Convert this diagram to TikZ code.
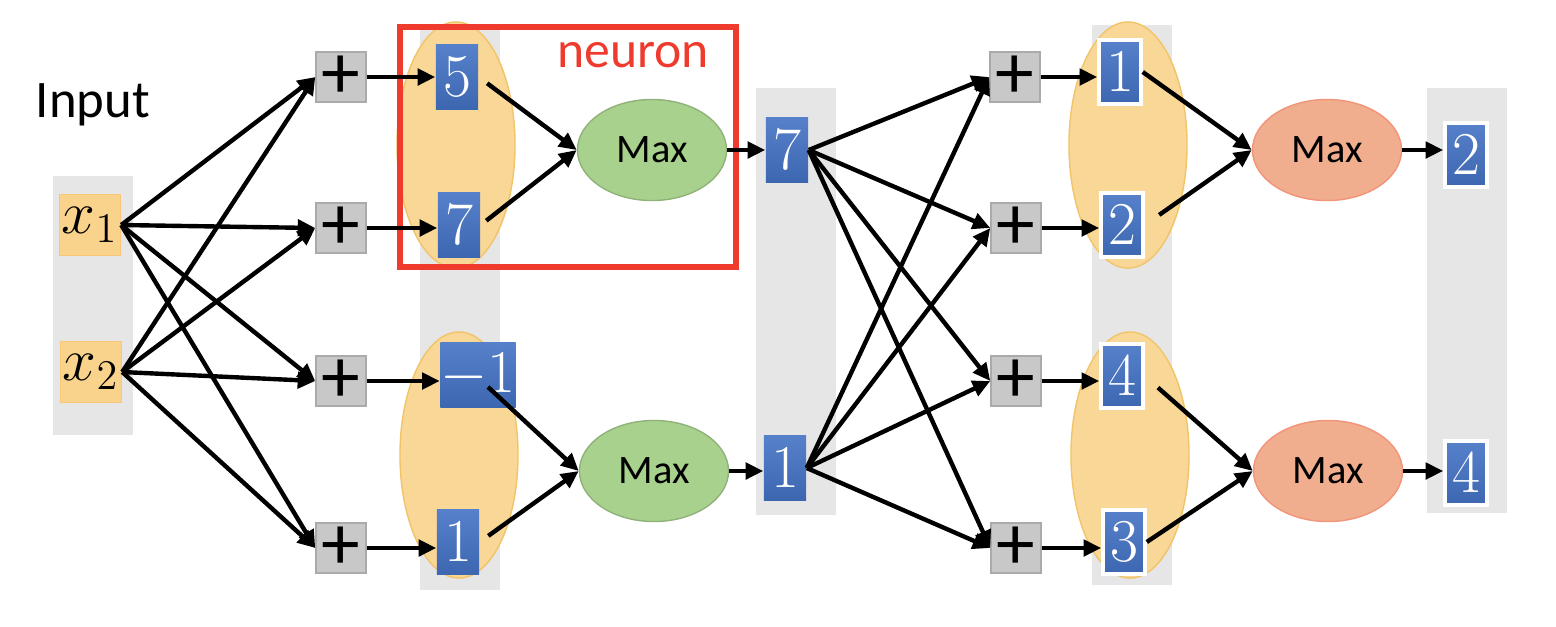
\documentclass[tikz,border=0pt]{standalone}
\usepackage[no-math]{fontspec}
\setmainfont{Carlito}
\usetikzlibrary{arrows.meta, positioning, shapes.geometric}
\definecolor{colGray}{HTML}{E6E6E6}
\definecolor{inOrange}{HTML}{F9D38C}
\definecolor{grpOrange}{HTML}{F9D797}
\definecolor{grpEdge}{HTML}{F2C469}
\definecolor{valBlue}{HTML}{4472C4}
\definecolor{sumGray}{HTML}{C8C8C8}
\definecolor{maxGreen}{HTML}{A9D18E}
\definecolor{maxSalmon}{HTML}{F0AE8E}
\definecolor{neuronRed}{HTML}{EE3B2E}

\begin{document}
\begin{tikzpicture}[
    x=0.01cm, y=-0.01cm,
    col/.style={fill=colGray},
    inbox/.style={rectangle, fill=inOrange, draw=inOrange!85!orange, minimum width=0.61cm, minimum height=0.61cm, inner sep=0pt, font=\fontsize{17}{19}\selectfont},
    sumbox/.style={rectangle, fill=sumGray, draw=sumGray!85!black, minimum width=0.5cm, minimum height=0.5cm, inner sep=0pt, font=\fontsize{22}{24}\selectfont},
    val/.style={rectangle, top color=valBlue!90!white, bottom color=valBlue!90!black, minimum width=0.42cm, minimum height=0.64cm, inner sep=0pt, text=white, font=\fontsize{18}{20}\selectfont},
    valw/.style={val, fill=valBlue, draw=white, line width=1pt},
    grp/.style={ellipse, fill=grpOrange, draw=grpEdge, minimum width=1.18cm, minimum height=2.46cm, inner sep=0pt},
    maxg/.style={ellipse, fill=maxGreen, draw=maxGreen!85!black, minimum width=1.49cm, minimum height=1.01cm, inner sep=0pt, font=\fontsize{11.5}{13}\selectfont},
    maxo/.style={maxg, fill=maxSalmon, draw=maxSalmon!85!red},
    arrow/.style={-{Triangle[length=5pt, width=4.6pt]}, line width=1.25pt}
]
    \useasboundingbox (0,0) rectangle (1556,626);

    % Columns
    \fill[col] (53,176) rectangle (133,435);
    \fill[col] (420,25) rectangle (500,590);
    \fill[col] (756,88) rectangle (836,515);
    \fill[col] (1092,25) rectangle (1172,585);
    \fill[col] (1427,88) rectangle (1507,513);

    % Groups
    \node[grp] (ga1) at (456,145) {};
    \node[grp] (ga2) at (459,455) {};
    \node[grp] (gb1) at (1128,145) {};
    \node[grp] (gb2) at (1130,455) {};

    % Input
    \node[font=\fontsize{15}{18}\selectfont] (inlbl) at (93,105) {Input};
    \node[inbox] (x1) at (90,225) {$x_1$};
    \node[inbox] (x2) at (91,372) {$x_2$};

    % First layer
    \node[sumbox] (sa1) at (341,77) {+};
    \node[sumbox] (sa2) at (341,228) {+};
    \node[sumbox] (sa3) at (341,381) {+};
    \node[sumbox] (sa4) at (341,548) {+};
    \node[val] (va1) at (457,77) {$5$};
    \node[val] (va2) at (459,225) {$7$};
    \node[val] (va3) at (478,375) {$-1$};
    \node[val] (va4) at (458,542) {$1$};
    \node[maxg] (ma1) at (652,150) {Max};
    \node[maxg] (ma2) at (654,471) {Max};
    \node[val] (h1) at (787,150) {$7$};
    \node[val] (h2) at (785,468) {$1$};

    % Neuron
    \draw[neuronRed, line width=1.5pt] (400,27) rectangle (736,267);
    \node[text=neuronRed, font=\fontsize{14.7}{17}\selectfont] (neuronlbl) at (633,55) {neuron};

    % Second layer
    \node[sumbox] (sb1) at (1015,77) {+};
    \node[sumbox] (sb2) at (1016,228) {+};
    \node[sumbox] (sb3) at (1016,381) {+};
    \node[sumbox] (sb4) at (1016,548) {+};
    \node[valw] (vb1) at (1120,72) {$1$};
    \node[valw] (vb2) at (1122,225) {$2$};
    \node[valw] (vb3) at (1122,376) {$4$};
    \node[valw] (vb4) at (1124,542) {$3$};
    \node[maxo] (mb1) at (1327,150) {Max};
    \node[maxo] (mb2) at (1328,471) {Max};
    \node[valw] (o1) at (1466,155) {$2$};
    \node[valw] (o2) at (1466,473) {$4$};

    % Arrows
    \foreach \s in {x1,x2}
        \foreach \t in {sa1,sa2,sa3,sa4}
            \draw[arrow] (\s.east) -- (\t.west);
    \draw[arrow] (sa1) -- (va1);
    \draw[arrow] (sa2) -- (sa2 -| va2.west);
    \draw[arrow] (sa3) -- (sa3 -| va3.west);
    \draw[arrow] (sa4) -- (sa4 -| va4.west);
    \draw[arrow, shorten <=3pt] (va1.east) -- (ma1.west);
    \draw[arrow, shorten <=2pt] (va2.east) -- (ma1.west);
    \draw[arrow] (va3.center) ++(10,12) -- (ma2.west);
    \draw[arrow, shorten <=3pt] (va4.east) -- (ma2.west);
    \draw[arrow] (ma1) -- (h1);
    \draw[arrow] (ma2) -- (ma2 -| h2.west);
    \foreach \s in {h1,h2}
        \foreach \t in {sb1,sb2,sb3,sb4}
            \draw[arrow] (\s.east) -- (\t.west);
    \draw[arrow] (sb1) -- (sb1 -| vb1.west);
    \draw[arrow] (sb2) -- (sb2 -| vb2.west);
    \draw[arrow] (sb3) -- (sb3 -| vb3.west);
    \draw[arrow] (sb4) -- (sb4 -| vb4.west);
    \draw[arrow] (vb1.east) -- (mb1.west);
    \draw[arrow, shorten <=5pt] (vb2.east) -- (mb1.west);
    \draw[arrow, shorten <=5pt] (vb3.east) -- (mb2.west);
    \draw[arrow] (vb4.east) -- (mb2.west);
    \draw[arrow] (mb1) -- (mb1 -| o1.west);
    \draw[arrow] (mb2) -- (mb2 -| o2.west);
\end{tikzpicture}
\end{document}
